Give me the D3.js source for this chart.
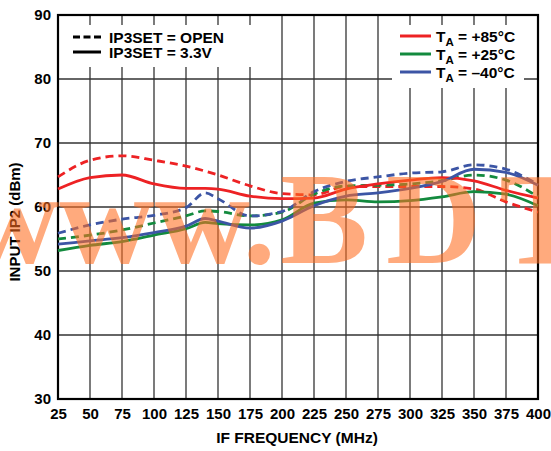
<!DOCTYPE html>
<html>
<head>
<meta charset="utf-8">
<script src="https://cdn.jsdelivr.net/npm/d3@7"></script>
<style>
  body { margin: 0; background: #fff; }
  svg text { font-family: "Liberation Sans", Arial, sans-serif; font-weight: bold; fill: #000; }
</style>
</head>
<body>
<script>
// IF frequency (MHz)
var freqs = [25, 50, 75, 100, 125, 140, 150, 175, 200, 225, 250, 275, 300, 325, 350, 375, 400];

// input IP2 (dBm)
var open85 = [64.7, 67.3, 68.0, 67.3, 66.4, 65.6, 65.0, 63.3, 62.1, 61.9, 63.2, 63.2, 63.2, 63.2, 62.8, 60.8, 59.2];
var set85  = [62.8, 64.6, 65.0, 63.6, 62.9, 62.9, 62.8, 61.7, 61.3, 61.4, 62.8, 63.6, 64.2, 64.6, 64.1, 62.6, 61.4];
var open25 = [55.0, 55.6, 56.4, 57.5, 58.6, 59.4, 59.3, 58.6, 59.2, 62.0, 63.3, 63.4, 63.6, 64.1, 65.0, 64.2, 61.6];
var set25  = [53.2, 54.0, 54.6, 55.6, 56.6, 57.6, 57.4, 57.2, 58.0, 60.6, 61.1, 60.8, 61.0, 61.6, 62.4, 62.0, 60.2];
var open40 = [55.9, 57.2, 58.1, 58.7, 59.9, 62.2, 61.3, 58.6, 59.3, 62.4, 64.0, 64.7, 65.3, 65.5, 66.6, 65.9, 63.5];
var set40  = [54.2, 54.7, 55.2, 56.0, 57.0, 58.2, 57.8, 56.7, 57.8, 60.2, 61.7, 62.2, 62.9, 64.0, 65.9, 65.4, 63.4];

var xTicks = [25, 50, 75, 100, 125, 150, 175, 200, 225, 250, 275, 300, 325, 350, 375, 400];
var yTicks = [30, 40, 50, 60, 70, 80, 90];

var red = "#ed2224", green = "#138a3e", blue = "#3c55a5";

var series = [
  {v: open85, color: red, dash: true},
  {v: open25, color: green, dash: true},
  {v: open40, color: blue, dash: true},
  {v: set85, color: red, dash: false},
  {v: set25, color: green, dash: false},
  {v: set40, color: blue, dash: false}
];

var margin = {top: 15, right: 13, bottom: 52, left: 58},
    width = 551 - margin.left - margin.right,
    height = 451 - margin.top - margin.bottom;

var x = d3.scaleLinear().domain([25, 400]).range([0, width]);
var y = d3.scaleLinear().domain([30, 90]).range([height, 0]);

var svg = d3.select("body").append("svg")
    .attr("width", 551)
    .attr("height", 451);

var g = svg.append("g")
    .attr("transform", "translate(" + margin.left + "," + margin.top + ")");

// grid
g.append("g").selectAll("line").data(xTicks).enter().append("line")
    .attr("x1", d => x(d)).attr("x2", d => x(d))
    .attr("y1", 0).attr("y2", height)
    .attr("stroke", "#333").attr("stroke-width", 1.3);

g.append("g").selectAll("line").data(yTicks).enter().append("line")
    .attr("x1", 0).attr("x2", width)
    .attr("y1", d => y(d)).attr("y2", d => y(d))
    .attr("stroke", "#333").attr("stroke-width", 1.3);

// legend backgrounds hide the grid
g.append("rect").attr("x", 6).attr("y", 10).attr("width", 196).attr("height", 42).attr("fill", "#fff");
g.append("rect").attr("x", 334).attr("y", 10).attr("width", 132).attr("height", 63).attr("fill", "#fff");

// frame
g.append("rect")
    .attr("width", width).attr("height", height)
    .attr("fill", "none").attr("stroke", "#000").attr("stroke-width", 2.2);

// curves
var line = d3.line()
    .x((d, i) => x(freqs[i]))
    .y(d => y(d))
    .curve(d3.curveMonotoneX);

g.append("g").selectAll("path").data(series).enter().append("path")
    .attr("d", d => line(d.v))
    .attr("fill", "none")
    .attr("stroke", d => d.color)
    .attr("stroke-width", 2.8)
    .attr("stroke-dasharray", d => d.dash ? "8,5" : null);

// axes labels
var xAxis = d3.axisBottom(x).tickValues(xTicks).tickSize(0).tickPadding(9);
var yAxis = d3.axisLeft(y).tickValues(yTicks).tickSize(0).tickPadding(7);

g.append("g").attr("transform", "translate(0," + height + ")").call(xAxis)
    .call(a => a.select(".domain").remove())
    .selectAll("text").style("font-size", "15px");

g.append("g").call(yAxis)
    .call(a => a.select(".domain").remove())
    .selectAll("text").style("font-size", "15px");

svg.append("text")
    .attr("x", 297).attr("y", 443)
    .attr("text-anchor", "middle")
    .style("font-size", "15.5px")
    .text("IF FREQUENCY (MHz)");

svg.append("text")
    .attr("transform", "translate(20," + 222 + ") rotate(-90)")
    .attr("text-anchor", "middle")
    .style("font-size", "15px")
    .text("INPUT IP2 (dBm)");

// legend: IP3SET
var leg1 = [{label: "IP3SET = OPEN", dash: true}, {label: "IP3SET = 3.3V", dash: false}];
var l1 = g.append("g").selectAll("g").data(leg1).enter().append("g")
    .attr("transform", (d, i) => "translate(15," + (22 + i * 15) + ")");
l1.append("line").attr("x1", 0).attr("x2", 28)
    .attr("stroke", "#000").attr("stroke-width", 3)
    .attr("stroke-dasharray", d => d.dash ? "7,3.5" : null);
l1.append("text").attr("x", 36).attr("dy", "0.36em")
    .style("font-size", "15.5px").text(d => d.label);

// legend: temperature
var leg2 = [{t: "+85°C", color: red}, {t: "+25°C", color: green}, {t: "\u201340°C", color: blue}];
var l2 = g.append("g").selectAll("g").data(leg2).enter().append("g")
    .attr("transform", (d, i) => "translate(342," + (21 + i * 18) + ")");
l2.append("line").attr("x1", 0).attr("x2", 31)
    .attr("stroke", d => d.color).attr("stroke-width", 3);
var lt = l2.append("text").attr("x", 36).attr("dy", "0.36em").style("font-size", "15.5px");
lt.append("tspan").text("T");
lt.append("tspan").attr("dy", "4").style("font-size", "11.5px").text("A");
lt.append("tspan").attr("dy", "-4").text(d => " = " + d.t);

// watermark
var wmParts = [{t: "www.", x: -36, sp: 0}, {t: "BDTIC", x: 280, sp: 18}];
svg.append("g").selectAll("text").data(wmParts).enter().append("text")
    .attr("x", d => d.x).attr("y", 263)
    .style("font-family", "'Liberation Serif', 'Times New Roman', serif")
    .style("font-weight", "bold")
    .style("font-size", "132px")
    .style("letter-spacing", d => d.sp + "px")
    .style("fill", "#ff6d1f")
    .style("fill-opacity", 0.58)
    .text(d => d.t);
</script>
</body>
</html>
